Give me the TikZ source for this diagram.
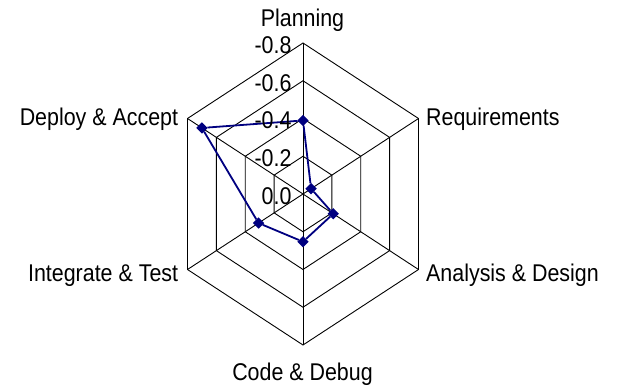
\documentclass[tikz,border=0pt]{standalone}
\usepackage{fontspec}
\usepackage{graphicx}
\setmainfont{Liberation Sans}
\usetikzlibrary{shapes.geometric}
\definecolor{seriesblue}{RGB}{0,0,128}
% chart text is set tall and narrowed horizontally, like the chart itself
\newcommand{\charttext}[1]{\scalebox{0.885}[1]{\fontsize{24.2}{27}\selectfont #1}}
\begin{document}
\begin{tikzpicture}[x=1pt,y=-1pt,
  gridline/.style={black, line width=0.9pt, line join=miter},
  serieslink/.style={seriesblue, line width=1.8pt},
  seriesmark/.style={diamond, fill=seriesblue, draw=none, inner sep=0pt, minimum size=11.5pt},
  axislabel/.style={inner sep=0pt},
  ticklabel/.style={inner sep=0pt, anchor=base east}]
\useasboundingbox (0,0) rectangle (619,388);

\begin{scope}[shift={(303,194)}]
  \coordinate (O) at (0,0);
  % outer vertices of the six axes
  \coordinate (P) at (0,-151);
  \coordinate (R) at (115.5,-75.5);
  \coordinate (A) at (115.5,75.5);
  \coordinate (C) at (0,151);
  \coordinate (I) at (-115.5,75.5);
  \coordinate (D) at (-115.5,-75.5);

  % concentric hexagonal rings
  \foreach \f in {0.25,0.5,0.75,1}
    \draw[gridline] (0,-151*\f) -- (115.5*\f,-75.5*\f) -- (115.5*\f,75.5*\f)
      -- (0,151*\f) -- (-115.5*\f,75.5*\f) -- (-115.5*\f,-75.5*\f) -- cycle;

  % spokes
  \foreach \n in {P,R,A,C,I,D}
    \draw[gridline] (O) -- (\n);

  % data series
  \node[seriesmark] (dP) at (0,-151*0.487) {};
  \node[seriesmark] (dR) at (115.5*0.07,-75.5*0.07) {};
  \node[seriesmark] (dA) at (115.5*0.262,75.5*0.262) {};
  \node[seriesmark] (dC) at (0,151*0.316) {};
  \node[seriesmark] (dI) at (-115.5*0.385,75.5*0.385) {};
  \node[seriesmark] (dD) at (-115.5*0.875,-75.5*0.875) {};
  \draw[serieslink] (dP) -- (dR) -- (dA) -- (dC) -- (dI) -- (dD) -- (dP);
\end{scope}

% scale values
\node[ticklabel] (t8) at (291.7,53.3) {\charttext{-0.8}};
\node[ticklabel] (t6) at (291.7,91) {\charttext{-0.6}};
\node[ticklabel] (t4) at (291.7,128.7) {\charttext{-0.4}};
\node[ticklabel] (t2) at (291.7,166.4) {\charttext{-0.2}};
\node[ticklabel] (t0) at (291.7,204.2) {\charttext{0.0}};

% axis names
\node[axislabel, anchor=base] (lP) at (302.5,26.7) {\charttext{Planning}};
\node[axislabel, anchor=base west] (lR) at (426,125) {\charttext{Requirements}};
\node[axislabel, anchor=base west] (lA) at (426,281.7) {\charttext{Analysis \& Design}};
\node[axislabel, anchor=base] (lC) at (302.5,380) {\charttext{Code \& Debug}};
\node[axislabel, anchor=base east] (lI) at (178.3,281.7) {\charttext{Integrate \& Test}};
\node[axislabel, anchor=base east] (lD) at (178.3,125) {\charttext{Deploy \& Accept}};
\end{tikzpicture}
\end{document}
